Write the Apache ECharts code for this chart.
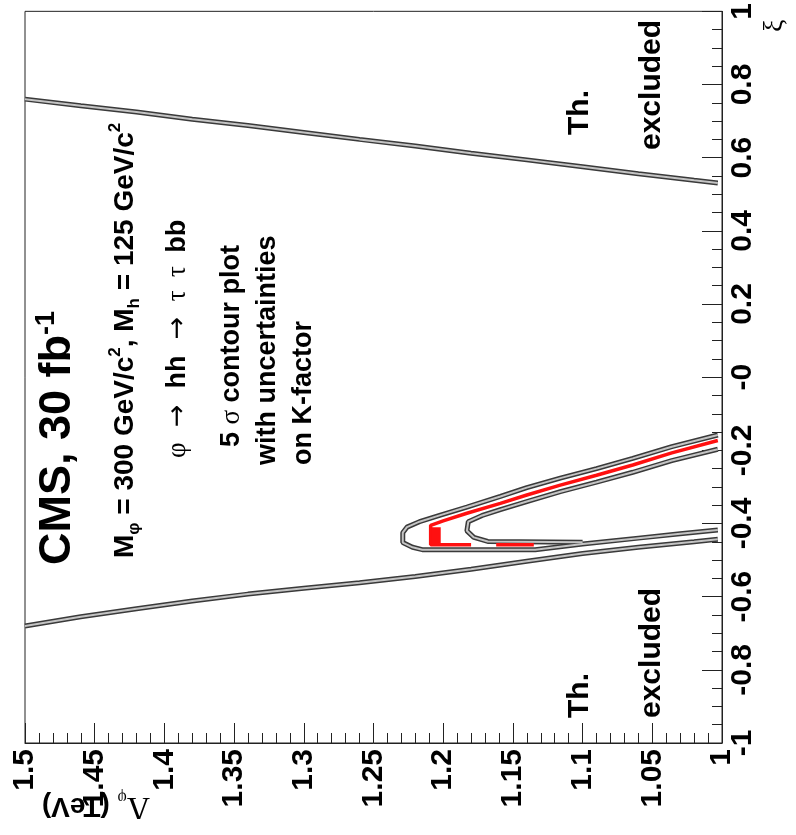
<!DOCTYPE html>
<html>
<head>
<meta charset="utf-8">
<script src="https://cdn.jsdelivr.net/npm/echarts@6/dist/echarts.min.js"></script>
<style>
  html, body { margin: 0; padding: 0; background: #fff; }
  #chart { width: 796px; height: 835px; }
</style>
</head>
<body>
<div id="chart"></div>
<script>
// axis tick labels (ROOT prints "-0" for zero)
const lambdaTickLabels = ['1', '1.05', '1.1', '1.15', '1.2', '1.25', '1.3', '1.35', '1.4', '1.45', '1.5'];
const xiTickLabels = ['-1', '-0.8', '-0.6', '-0.4', '-0.2', '-0', '0.2', '0.4', '0.6', '0.8', '1'];

// theory exclusion lines [Lambda_phi (TeV), xi]
const upperTheory = [
  [1.5, 0.76], [1.46, 0.742], [1.42, 0.725], [1.38, 0.705], [1.34, 0.688], [1.3, 0.669],
  [1.26, 0.65], [1.22, 0.632], [1.18, 0.612], [1.14, 0.594], [1.1, 0.575], [1.06, 0.556],
  [1.02, 0.538], [1.003, 0.531]
];
const lowerTheory = [
  [1.5, -0.68], [1.46, -0.655], [1.42, -0.633], [1.38, -0.612], [1.34, -0.593], [1.3, -0.577],
  [1.26, -0.562], [1.22, -0.545], [1.18, -0.525], [1.14, -0.503], [1.1, -0.482], [1.06, -0.465],
  [1.02, -0.45], [1.003, -0.443]
];

// 5 sigma contour (outer and inner edges) and the red K-factor contour
const contourOuter = [
  [1.003, -0.158], [1.036, -0.19], [1.064, -0.222], [1.09, -0.25], [1.116, -0.276], [1.14, -0.302],
  [1.159, -0.326], [1.183, -0.355], [1.202, -0.377], [1.217, -0.395], [1.226, -0.41], [1.229, -0.425],
  [1.229, -0.452], [1.222, -0.465], [1.215, -0.4715], [1.134, -0.4715], [1.1, -0.456], [1.06, -0.44],
  [1.03, -0.428], [1.003, -0.418]
];
const contourInner = [
  [1.003, -0.197], [1.036, -0.228], [1.064, -0.26], [1.09, -0.287], [1.116, -0.313], [1.14, -0.34],
  [1.159, -0.362], [1.172, -0.378], [1.182, -0.395], [1.183, -0.42], [1.178, -0.438], [1.168, -0.449],
  [1.1, -0.451]
];
const redContour = [
  [1.003, -0.173], [1.036, -0.207], [1.064, -0.24], [1.09, -0.268], [1.116, -0.295], [1.14, -0.322],
  [1.159, -0.345], [1.183, -0.372], [1.2, -0.393], [1.209, -0.405], [1.209, -0.458], [1.18, -0.458]
];
const redBottom = [[1.162, -0.458], [1.135, -0.458]];
const redTip = [[1.205, -0.41], [1.205, -0.455]];

const SANS = '"Liberation Sans", Arial, Helvetica, sans-serif';
const SERIF = '"Liberation Serif", "DejaVu Serif", serif';

const chart = echarts.init(document.getElementById('chart'), null, { renderer: 'canvas' });

// ROOT-style contour line: dark outline with a grey core
const boxLine = (data, z) => [
  { type: 'line', data: data, showSymbol: false, silent: true, z: z,
    lineStyle: { color: '#3a3a3a', width: 5 } },
  { type: 'line', data: data, showSymbol: false, silent: true, z: z + 1,
    lineStyle: { color: '#c4c4c4', width: 2 } }
];

// rotated text helper (reads bottom to top)
const vText = (x, y, text, rich, font) => ({
  type: 'text', x: x, y: y, rotation: Math.PI / 2, z: 100,
  style: {
    text: text, rich: rich, font: font, fill: '#000',
    align: 'left', verticalAlign: 'middle',
    textAlign: 'left', textVerticalAlign: 'middle'
  }
});

const option = {
  backgroundColor: '#fff',
  animation: false,
  grid: { left: 25, right: 74, top: 5, bottom: 92, show: true, borderColor: '#222', borderWidth: 1 },
  xAxis: {
    type: 'value', min: 1, max: 1.5, interval: 0.05, inverse: true, position: 'bottom',
    axisLine: { show: true, onZero: false, lineStyle: { color: '#222', width: 1 } },
    axisTick: { show: true, inside: true, length: 20, lineStyle: { color: '#222' } },
    minorTick: { show: true, splitNumber: 5, length: 10, lineStyle: { color: '#222' } },
    splitLine: { show: false },
    axisLabel: {
      rotate: 90, margin: 6, color: '#000', fontSize: 30, fontWeight: 'bold', fontFamily: SANS,
      formatter: v => lambdaTickLabels[Math.round((v - 1) / 0.05)]
    }
  },
  yAxis: {
    type: 'value', position: 'right', min: -1, max: 1, interval: 0.2,
    axisLine: { show: true, onZero: false, lineStyle: { color: '#222', width: 1 } },
    axisTick: { show: true, inside: true, length: 20, lineStyle: { color: '#222' } },
    minorTick: { show: true, splitNumber: 4, length: 10, lineStyle: { color: '#222' } },
    splitLine: { show: false },
    axisLabel: {
      rotate: 90, margin: 6, color: '#000', fontSize: 30, fontWeight: 'bold', fontFamily: SANS,
      formatter: v => xiTickLabels[Math.round((v + 1) / 0.2)]
    }
  },
  series: [
    ...boxLine(upperTheory, 2),
    ...boxLine(lowerTheory, 2),
    ...boxLine(contourOuter, 4),
    ...boxLine(contourInner, 4),
    { type: 'line', data: redContour, showSymbol: false, silent: true, z: 8,
      lineStyle: { color: '#ff1010', width: 3.5 } },
    { type: 'line', data: redBottom, showSymbol: false, silent: true, z: 8,
      lineStyle: { color: '#ff1010', width: 3.5 } },
    { type: 'line', data: redTip, showSymbol: false, silent: true, z: 8,
      lineStyle: { color: '#ff1010', width: 9 } }
  ],
  graphic: [
    vText(58, 565, '{a|CMS, 30 fb}{p|-1}', {
      a: { fontSize: 45, fontWeight: 'bold', fontFamily: SANS, lineHeight: 50 },
      p: { fontSize: 27, fontWeight: 'bold', fontFamily: SANS, verticalAlign: 'top', lineHeight: 27 }
    }),
    vText(125, 558, '{a|M}{s|φ}{a| = 300 GeV/c}{p|2}{a|, M}{s|h}{a| = 125 GeV/c}{p|2}', {
      a: { fontSize: 28, fontWeight: 'bold', fontFamily: SANS, lineHeight: 36 },
      s: { fontSize: 17, fontWeight: 'bold', fontFamily: SANS, verticalAlign: 'bottom', lineHeight: 17 },
      p: { fontSize: 17, fontWeight: 'bold', fontFamily: SANS, verticalAlign: 'top', lineHeight: 17 }
    }),
    vText(178, 458, '{g|φ }{r| → }{a| hh }{r| → }{g| τ  τ  }{a|bb}', {
      a: { fontSize: 27, fontWeight: 'bold', fontFamily: SANS },
      r: { fontSize: 27, fontFamily: '"DejaVu Sans", sans-serif' },
      g: { fontSize: 27, fontFamily: SERIF }
    }),
    vText(232, 447, '{a|5 }{g|σ}{a| contour plot}', {
      a: { fontSize: 27, fontWeight: 'bold', fontFamily: SANS },
      g: { fontSize: 27, fontFamily: SERIF }
    }),
    vText(268, 465, 'with uncertainties', null, 'bold 27px ' + SANS),
    vText(304, 465, 'on K-factor', null, 'bold 27px ' + SANS),
    vText(580, 135, 'Th.', null, 'bold 30px ' + SANS),
    vText(652, 150, 'excluded', null, 'bold 30px ' + SANS),
    vText(580, 718, 'Th.', null, 'bold 30px ' + SANS),
    vText(652, 718, 'excluded', null, 'bold 30px ' + SANS),
    // xi axis title
    vText(775, 32, 'ξ', null, '28px ' + SERIF),
    // Lambda axis title, upside down as in the rotated ROOT canvas
    {
      type: 'text', x: 150, y: 806, rotation: Math.PI, z: 100,
      style: {
        text: '{l|Λ}{s|φ}{t| (TeV)}',
        rich: {
          l: { fontSize: 32, fontFamily: SERIF, lineHeight: 34 },
          s: { fontSize: 16, fontFamily: SERIF, verticalAlign: 'bottom', lineHeight: 16 },
          t: { fontSize: 28, fontWeight: 'bold', fontFamily: SANS, lineHeight: 34 }
        },
        fill: '#000', align: 'left', verticalAlign: 'middle',
        textAlign: 'left', textVerticalAlign: 'middle'
      }
    }
  ]
};

chart.setOption(option);
</script>
</body>
</html>
